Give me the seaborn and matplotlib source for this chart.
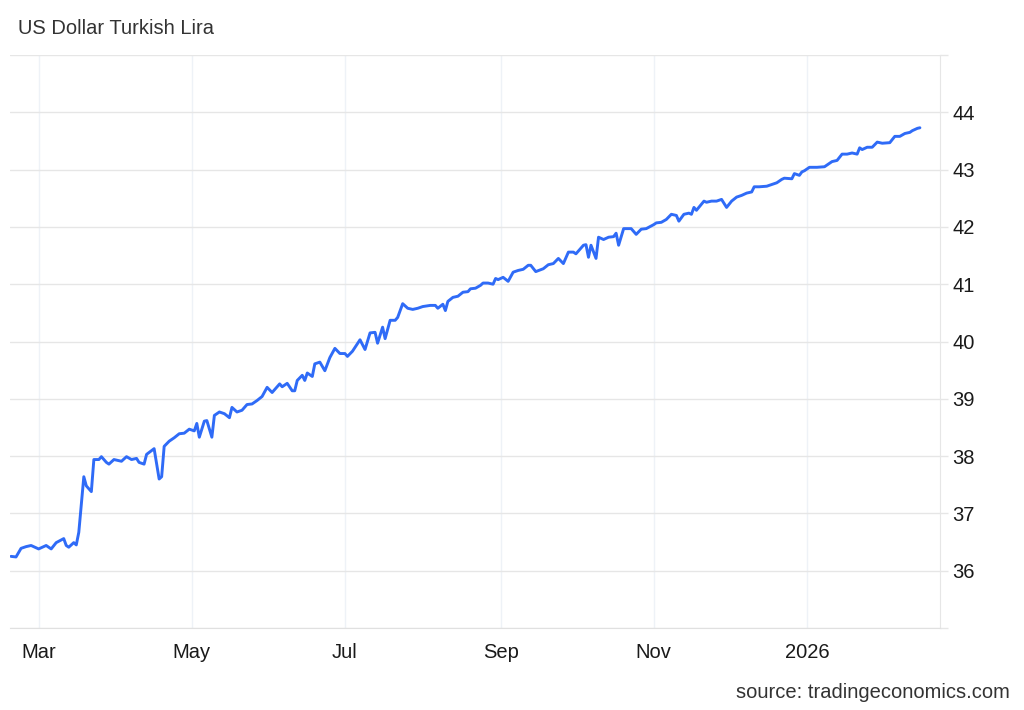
import matplotlib
matplotlib.use("Agg")
import matplotlib.pyplot as plt
import pandas as pd
import seaborn as sns

# USD/TRY (day offset from start date, rate)
start = pd.Timestamp("2025-02-18")
day = [0, 2, 4, 6, 8, 11, 14, 16, 18, 21, 22, 23, 25, 26, 27, 29, 30, 32, 33, 35,
       36, 38, 39, 41, 43, 44, 46, 48, 50, 51, 53, 54, 57, 59, 60, 61, 63, 65, 67, 69,
       71, 73, 74, 75, 77, 78, 80, 81, 83, 85, 87, 88, 90, 92, 94, 96, 98, 100, 102, 104,
       107, 108, 110, 112, 113, 114, 116, 117, 118, 120, 121, 123, 125, 127, 129, 131, 133, 134, 136, 139,
       141, 143, 145, 146, 148, 149, 151, 153, 154, 156, 158, 160, 162, 164, 167, 169, 170, 172, 173, 174,
       176, 178, 180, 182, 183, 185, 187, 188, 190, 192, 193, 194, 196, 198, 200, 202, 204, 206, 207, 209,
       212, 214, 216, 218, 220, 222, 224, 225, 228, 229, 230, 231, 233, 234, 236, 238, 240, 241, 242, 244,
       247, 249, 251, 253, 256, 257, 259, 261, 263, 265, 266, 268, 270, 271, 272, 273, 276, 277, 279, 281,
       283, 284, 285, 287, 289, 291, 293, 295, 296, 298, 301, 303, 305, 307, 308, 311, 312, 314, 315, 316,
       318, 321, 324, 327, 329, 331, 333, 335, 337, 338, 339, 341, 343, 345, 347, 350, 352, 354, 356, 358,
       359, 361, 362]
rate = [36.25, 36.24, 36.39, 36.42, 36.44, 36.38, 36.44, 36.38, 36.49, 36.56, 36.44, 36.41, 36.49, 36.45, 36.67, 37.64, 37.48, 37.38, 37.94, 37.94,
        37.99, 37.89, 37.86, 37.94, 37.92, 37.91, 37.99, 37.94, 37.96, 37.89, 37.86, 38.03, 38.13, 37.60, 37.64, 38.17, 38.26, 38.32, 38.39, 38.40,
        38.47, 38.44, 38.57, 38.33, 38.61, 38.62, 38.33, 38.71, 38.77, 38.74, 38.67, 38.85, 38.77, 38.80, 38.90, 38.91, 38.97, 39.04, 39.20, 39.11,
        39.26, 39.21, 39.27, 39.14, 39.14, 39.32, 39.41, 39.32, 39.45, 39.39, 39.61, 39.64, 39.49, 39.72, 39.88, 39.79, 39.79, 39.74, 39.83, 40.03,
        39.86, 40.15, 40.16, 39.97, 40.25, 40.05, 40.37, 40.37, 40.42, 40.66, 40.58, 40.56, 40.58, 40.61, 40.63, 40.63, 40.58, 40.65, 40.54, 40.70,
        40.77, 40.79, 40.86, 40.87, 40.92, 40.93, 40.98, 41.02, 41.02, 41.00, 41.10, 41.08, 41.12, 41.05, 41.21, 41.24, 41.26, 41.33, 41.33, 41.22,
        41.27, 41.34, 41.36, 41.45, 41.36, 41.56, 41.56, 41.53, 41.68, 41.69, 41.47, 41.68, 41.45, 41.82, 41.78, 41.82, 41.83, 41.89, 41.68, 41.97,
        41.97, 41.87, 41.96, 41.97, 42.04, 42.07, 42.08, 42.13, 42.22, 42.20, 42.10, 42.22, 42.24, 42.22, 42.34, 42.29, 42.45, 42.43, 42.45, 42.45,
        42.48, 42.41, 42.34, 42.45, 42.52, 42.55, 42.59, 42.61, 42.70, 42.70, 42.71, 42.74, 42.77, 42.83, 42.85, 42.84, 42.93, 42.90, 42.96, 42.98,
        43.04, 43.04, 43.05, 43.14, 43.16, 43.27, 43.27, 43.29, 43.27, 43.38, 43.35, 43.39, 43.39, 43.48, 43.46, 43.47, 43.58, 43.58, 43.63, 43.65,
        43.68, 43.72, 43.73]

tick_dates = ["2025-03-01", "2025-05-01", "2025-07-01", "2025-09-01", "2025-11-01", "2026-01-01"]
tick_labels = ["Mar", "May", "Jul", "Sep", "Nov", "2026"]
y_ticks = [35, 36, 37, 38, 39, 40, 41, 42, 43, 44, 45]

df = pd.DataFrame({"date": start + pd.to_timedelta(day, unit="D"), "rate": rate})

sns.set_style("white")
plt.rcParams["font.family"] = ["Liberation Sans", "DejaVu Sans"]

fig = plt.figure(figsize=(10.24, 7.1), dpi=100)
ax = fig.add_axes([10 / 1024, 1 - 628 / 710, 930 / 1024, 573 / 710])

sns.lineplot(data=df, x="date", y="rate", color="#2f6bf7", linewidth=2.1, ax=ax, zorder=3)

ax.set_xlim(start - pd.Timedelta(days=0.4), start + pd.Timedelta(days=370))
ax.set_ylim(35, 45)
ax.set_xticks(pd.to_datetime(tick_dates))
ax.set_xticklabels(tick_labels)
ax.set_yticks(y_ticks)
ax.set_yticklabels(["" if v in (35, 45) else str(v) for v in y_ticks])

ax.yaxis.tick_right()
ax.tick_params(axis="y", length=6, width=1, color="#e6e6e6", pad=3, labelsize=14.5, labelcolor="#1a1a1a")
ax.tick_params(axis="x", length=0, pad=11, labelsize=14.5, labelcolor="#1a1a1a")

ax.grid(axis="y", color="#e6e6e6", linewidth=1)
ax.grid(axis="x", color="#eef2f7", linewidth=1)
ax.set_axisbelow(True)

for side in ["top", "left"]:
    ax.spines[side].set_visible(False)
ax.spines["right"].set_color("#e6e6e6")
ax.spines["bottom"].set_color("#e0e0e0")
ax.set_xlabel("")
ax.set_ylabel("")

fig.text(18 / 1024, 1 - 28 / 710, "US Dollar Turkish Lira", ha="left", va="center",
         fontsize=14.5, color="#333333")
fig.text(1010 / 1024, 1 - 693 / 710, "source: tradingeconomics.com", ha="right", va="center",
         fontsize=14.5, color="#333333")

fig.savefig("out.png", dpi=100)
